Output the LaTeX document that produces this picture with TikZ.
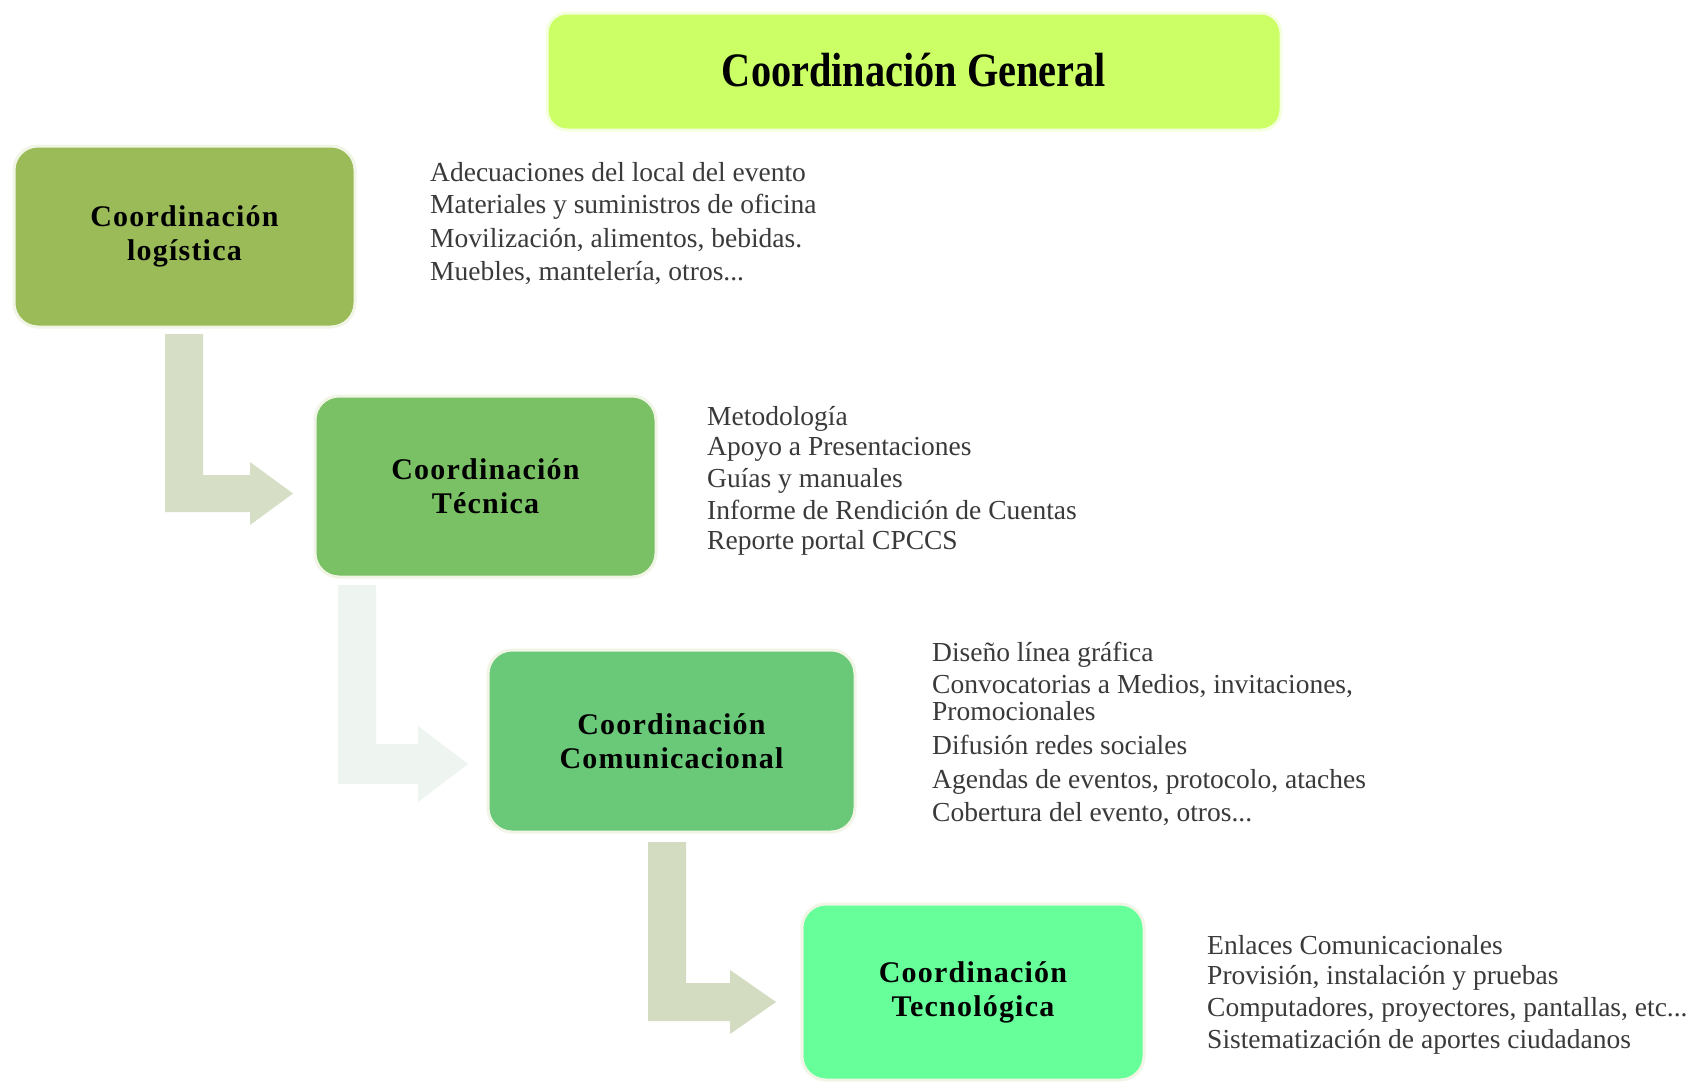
\documentclass[tikz,border=0pt]{standalone}
\usepackage{fontspec}
\setmainfont{Liberation Serif}
\newfontfamily\lblfont[LetterSpace=4]{Liberation Serif}
\definecolor{cGen}{HTML}{CCFF66}
\definecolor{cLog}{HTML}{9BBB59}
\definecolor{cTec}{HTML}{79C164}
\definecolor{cCom}{HTML}{6AC879}
\definecolor{cTno}{HTML}{66FF99}
\definecolor{arrA}{HTML}{D6DFC6}
\definecolor{arrB}{HTML}{EEF4EF}
\definecolor{arrC}{HTML}{D3DBC0}
\definecolor{txtgray}{HTML}{3A3A3A}
\begin{document}
\begin{tikzpicture}[x=1pt,y=-1pt,
  cbox/.style={rectangle, rounded corners=24pt, draw=white!85!cLog, line width=3pt,
    align=center, text=black, inner sep=0pt,
    font=\lblfont\bfseries\fontsize{30}{34}\selectfont},
  item/.style={anchor=base west, inner sep=0pt, text=txtgray,
    font=\fontsize{27.5}{30}\selectfont}
]
\useasboundingbox (0,0) rectangle (1698,1082);
\fill[white] (0,0) rectangle (1698,1082);

% block arrows
\fill[arrA] (165,334) -- (203,334) -- (203,475) -- (250,475) -- (250,462) -- (293,493.5)
  -- (250,525) -- (250,512) -- (165,512) -- cycle;
\fill[arrB] (338,585) -- (376,585) -- (376,744) -- (418,744) -- (418,726) -- (468,764)
  -- (418,802) -- (418,784) -- (338,784) -- cycle;
\fill[arrC] (648,842) -- (686,842) -- (686,983) -- (730,983) -- (730,970) -- (776,1002)
  -- (730,1034) -- (730,1021) -- (648,1021) -- cycle;

% title
\node[cbox, fill=cGen, draw=white!80!cGen, rounded corners=20pt, minimum width=734pt, minimum height=117pt,
  font=\bfseries\fontsize{48}{52}\selectfont] (gen) at (914,71.5)
  {\raisebox{3pt}{\scalebox{0.84}[1]{Coordinación General}}};

% coordination boxes
\node[cbox, fill=cLog, minimum width=341pt, minimum height=181pt] (log) at (184.5,236.5)
  {Coordinación\\logística};
\node[cbox, fill=cTec, minimum width=341pt, minimum height=181pt] (tec) at (485.5,486.5)
  {Coordinación\\Técnica};
\node[cbox, fill=cCom, minimum width=367pt, minimum height=182pt] (com) at (671.5,741)
  {Coordinación\\Comunicacional};
\node[cbox, fill=cTno, minimum width=342pt, minimum height=176pt] (tno) at (973,992)
  {Coordinación\\Tecnológica};

% lists
\node[item] (a1) at (430,181) {Adecuaciones del local del evento};
\node[item] (a2) at (430,213) {Materiales y suministros de oficina};
\node[item] (a3) at (430,247) {Movilización, alimentos, bebidas.};
\node[item] (a4) at (430,280) {Muebles, mantelería, otros...};

\node[item] (b1) at (707,425) {Metodología};
\node[item] (b2) at (707,455) {Apoyo a Presentaciones};
\node[item] (b3) at (707,487) {Guías y manuales};
\node[item] (b4) at (707,519) {Informe de Rendición de Cuentas};
\node[item] (b5) at (707,549) {Reporte portal CPCCS};

\node[item] (c1) at (932,661) {Diseño línea gráfica};
\node[item] (c2) at (932,693) {Convocatorias a Medios, invitaciones,};
\node[item] (c3) at (932,720) {Promocionales};
\node[item] (c4) at (932,754) {Difusión redes sociales};
\node[item] (c5) at (932,788) {Agendas de eventos, protocolo, ataches};
\node[item] (c6) at (932,821) {Cobertura del evento, otros...};

\node[item] (d1) at (1207,954) {Enlaces Comunicacionales};
\node[item] (d2) at (1207,984) {Provisión, instalación y pruebas};
\node[item] (d3) at (1207,1016) {Computadores, proyectores, pantallas, etc...};
\node[item] (d4) at (1207,1048) {Sistematización de aportes ciudadanos};
\end{tikzpicture}
\end{document}
